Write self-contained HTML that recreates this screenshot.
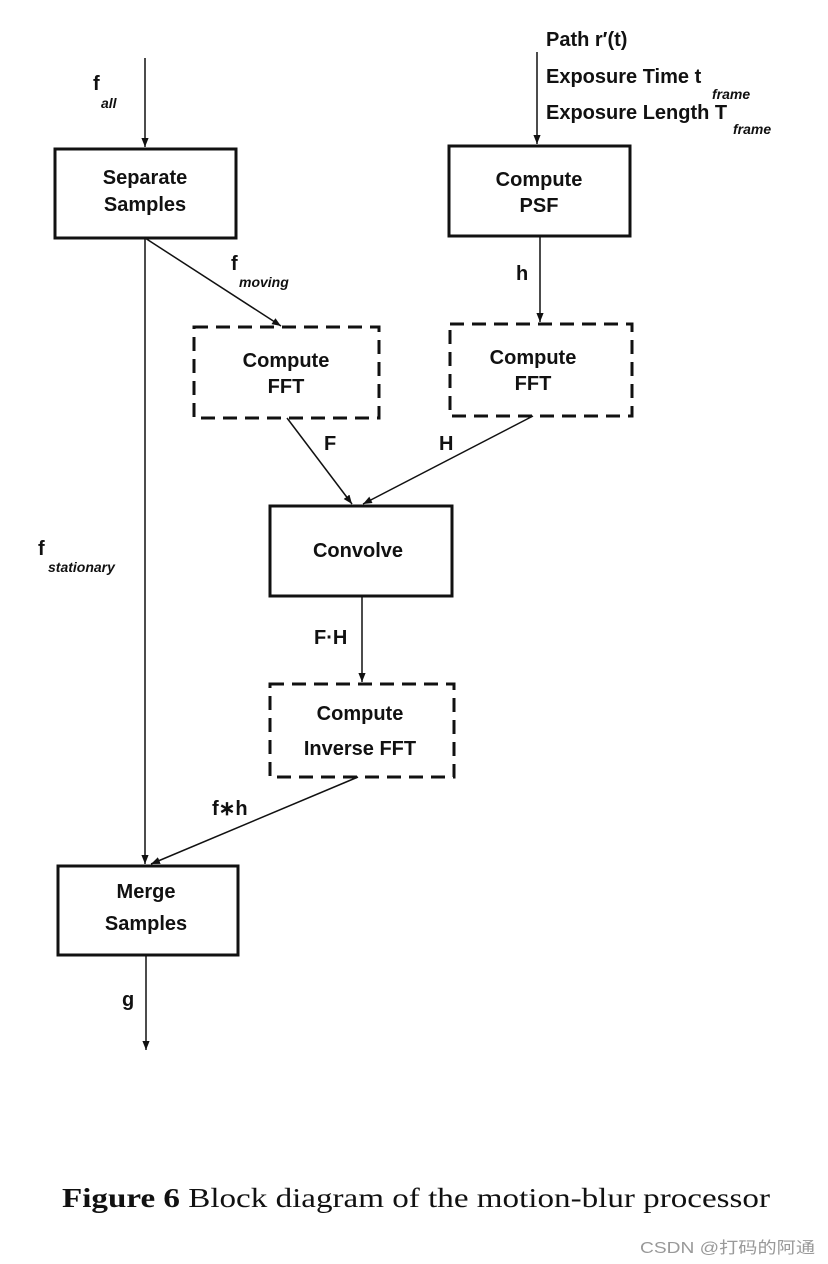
<!DOCTYPE html>
<html><head><meta charset="utf-8"><style>
html,body{margin:0;padding:0;background:#fff;}
svg{display:block;}
.t{font-family:"Liberation Sans Narrow","Liberation Sans",sans-serif;font-size:20px;font-weight:bold;fill:#111;text-anchor:middle;}
.i{font-family:"Liberation Sans Narrow","Liberation Sans",sans-serif;font-style:italic;font-weight:bold;font-size:14px;fill:#111;}
.l{font-family:"Liberation Sans Narrow","Liberation Sans",sans-serif;font-size:20px;font-weight:bold;fill:#111;}
</style></head><body>
<svg width="828" height="1264" viewBox="0 0 828 1264" xmlns="http://www.w3.org/2000/svg">
<defs><marker id="a" viewBox="0 0 10 10" refX="10" refY="5" markerWidth="9" markerHeight="9" orient="auto" markerUnits="userSpaceOnUse"><path d="M0,1 L10,5 L0,9 z" fill="#111"/></marker></defs>
<g fill="none" stroke="#111" stroke-width="3">
<rect x="55" y="149" width="181" height="89"/>
<rect x="449" y="146" width="181" height="90"/>
<rect x="270" y="506" width="182" height="90"/>
<rect x="58" y="866" width="180" height="89"/>
</g>
<g fill="none" stroke="#111" stroke-width="3" stroke-dasharray="14,8">
<rect x="194" y="327" width="185" height="91"/>
<rect x="450" y="324" width="182" height="92"/>
<rect x="270" y="684" width="184" height="93"/>
</g>
<g stroke="#111" stroke-width="1.5" marker-end="url(#a)">
<line x1="145" y1="58" x2="145" y2="147"/>
<line x1="537" y1="52" x2="537" y2="144"/>
<line x1="145" y1="238" x2="145" y2="864"/>
<line x1="145" y1="238" x2="281" y2="326"/>
<line x1="540" y1="236" x2="540" y2="322"/>
<line x1="287" y1="418" x2="352" y2="504"/>
<line x1="533" y1="416" x2="363" y2="504"/>
<line x1="362" y1="596" x2="362" y2="682"/>
<line x1="358" y1="777" x2="151" y2="864"/>
<line x1="146" y1="955" x2="146" y2="1050"/>
</g>
<text class="t" x="145" y="184">Separate</text>
<text class="t" x="145" y="211">Samples</text>
<text class="t" x="539" y="186">Compute</text>
<text class="t" x="539" y="212">PSF</text>
<text class="t" x="286" y="367">Compute</text>
<text class="t" x="286" y="393">FFT</text>
<text class="t" x="533" y="364">Compute</text>
<text class="t" x="533" y="390">FFT</text>
<text class="t" x="358" y="557">Convolve</text>
<text class="t" x="360" y="720">Compute</text>
<text class="t" x="360" y="755">Inverse FFT</text>
<text class="t" x="146" y="898">Merge</text>
<text class="t" x="146" y="930">Samples</text>
<text class="l" x="546" y="46">Path r′(t)</text>
<text class="l" x="546" y="83">Exposure Time t</text>
<text class="i" x="712" y="99">frame</text>
<text class="l" x="546" y="119">Exposure Length T</text>
<text class="i" x="733" y="134">frame</text>
<text class="l" x="93" y="90">f</text>
<text class="i" x="101" y="108">all</text>
<text class="l" x="231" y="270">f</text>
<text class="i" x="239" y="287">moving</text>
<text class="l" x="516" y="280">h</text>
<text class="l" x="324" y="450">F</text>
<text class="l" x="439" y="450">H</text>
<text class="l" x="38" y="555">f</text>
<text class="i" x="48" y="572">stationary</text>
<text class="l" x="314" y="644">F·H</text>
<text class="l" x="212" y="815">f∗h</text>
<text class="l" x="122" y="1006">g</text>
<text x="62" y="1207" textLength="708" lengthAdjust="spacingAndGlyphs" style="font-family:'Liberation Serif',serif;font-size:27px;fill:#111"><tspan font-weight="bold">Figure 6</tspan> Block diagram of the motion-blur processor</text>
<text x="640" y="1253" textLength="175" lengthAdjust="spacingAndGlyphs" style="font-family:'Liberation Sans','Noto Sans CJK SC',sans-serif;font-size:16px;fill:#999">CSDN @打码的阿通</text>
</svg>
</body></html>
